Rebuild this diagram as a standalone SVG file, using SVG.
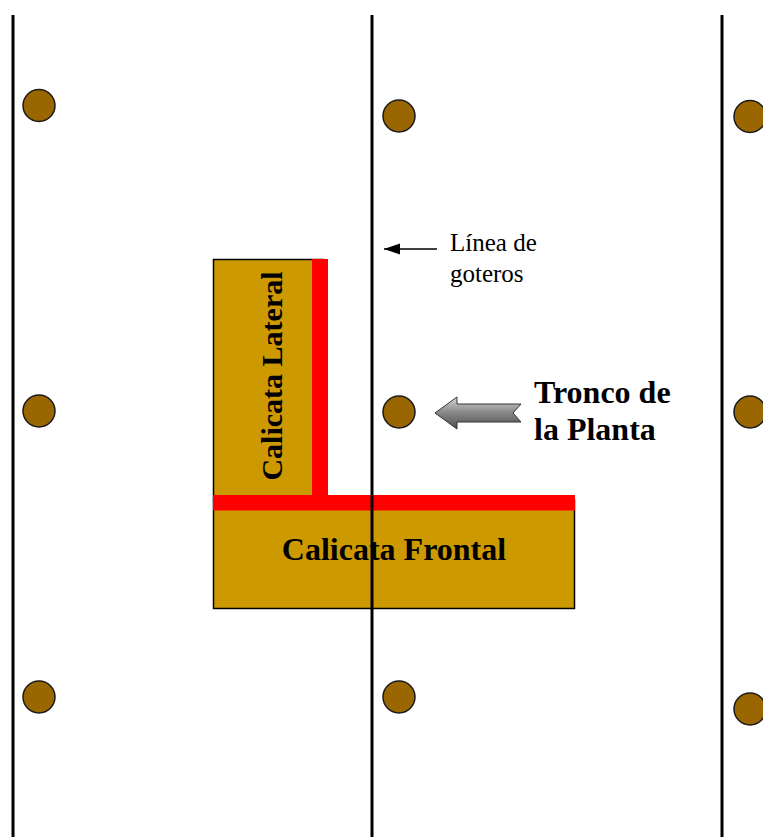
<svg xmlns="http://www.w3.org/2000/svg" width="763" height="837" viewBox="0 0 763 837">
  <style>
    .row { stroke: #000; stroke-width: 3; }
    .plant { fill: #996600; stroke: #1a1a1a; stroke-width: 1.5; }
    .pit { fill: #CC9900; stroke: #000; stroke-width: 1.5; }
    .cut { fill: #FF0000; }
    .bold { font-family: "Liberation Serif", "Times New Roman", serif; font-weight: bold; font-size: 32px; fill: #000; }
    .note { font-family: "Liberation Serif", "Times New Roman", serif; font-size: 25px; fill: #000; }
  </style>
  <defs>
    <marker id="tip" markerWidth="16" markerHeight="12" refX="16" refY="6" orient="auto" markerUnits="userSpaceOnUse">
      <path d="M0,0.5 L16,6 L0,11.5 z" fill="#000"/>
    </marker>
    <linearGradient id="steel" x1="0" y1="0" x2="0" y2="1">
      <stop offset="0" stop-color="#d9d9d9"/>
      <stop offset="0.45" stop-color="#8c8c8c"/>
      <stop offset="1" stop-color="#4d4d4d"/>
    </linearGradient>
  </defs>

  <rect width="763" height="837" fill="#fff"/>

  <!-- excavation pits -->
  <g id="calicata-lateral">
    <rect class="pit" x="213.5" y="259.5" width="110" height="240"/>
    <text class="bold" style="font-size:30px" transform="translate(282,376) rotate(-90)" text-anchor="middle">Calicata Lateral</text>
  </g>
  <g id="calicata-frontal">
    <rect class="pit" x="213.5" y="500" width="361" height="108.5"/>
    <text class="bold" x="394" y="560" text-anchor="middle">Calicata Frontal</text>
  </g>
  <g id="cortes">
    <rect class="cut" x="312" y="259" width="16" height="244"/>
    <rect class="cut" x="213" y="495" width="362" height="15.5"/>
  </g>

  <!-- drip lines -->
  <g id="lineas">
    <line class="row" x1="13" y1="15" x2="13" y2="837"/>
    <line class="row" x1="372" y1="15" x2="372" y2="837"/>
    <line class="row" x1="722" y1="15" x2="722" y2="837"/>
  </g>

  <!-- plants -->
  <g id="plantas">
    <circle class="plant" cx="39" cy="105.5" r="16"/>
    <circle class="plant" cx="399" cy="116" r="16"/>
    <circle class="plant" cx="750" cy="116.5" r="16"/>
    <circle class="plant" cx="39" cy="411" r="16"/>
    <circle class="plant" cx="399" cy="412" r="16"/>
    <circle class="plant" cx="750" cy="412" r="16"/>
    <circle class="plant" cx="39" cy="697" r="16"/>
    <circle class="plant" cx="399" cy="697" r="16"/>
    <circle class="plant" cx="750" cy="709" r="16"/>
  </g>

  <!-- labels and pointers -->
  <g id="conectores">
    <line x1="437" y1="249" x2="384" y2="249" stroke="#000" stroke-width="1.5" marker-end="url(#tip)"/>
    <path d="M435,413 L457,397 L457,404 L521,404 L513,413 L521,422 L457,422 L457,429 Z" fill="url(#steel)" stroke="#333" stroke-width="1"/>
  </g>
  <g id="etiqueta-goteros">
    <text class="note" x="450" y="251">Línea de</text>
    <text class="note" x="450" y="282">goteros</text>
  </g>
  <g id="etiqueta-tronco">
    <text class="bold" x="534" y="403">Tronco de</text>
    <text class="bold" x="534" y="440">la Planta</text>
  </g>
</svg>
